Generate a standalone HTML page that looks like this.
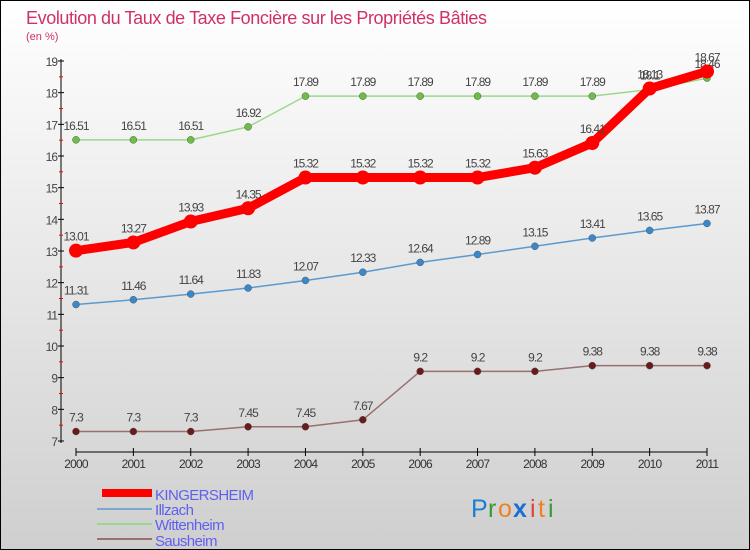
<!DOCTYPE html>
<html><head><meta charset="utf-8"><style>
body{margin:0;}
#wrap{width:750px;height:550px;position:relative;box-sizing:border-box;border:1px solid #000;background:linear-gradient(#ffffff,#cfcfcf);font-family:"Liberation Sans",sans-serif;overflow:hidden}
text{font-family:"Liberation Sans",sans-serif}
</style></head><body>
<div id="wrap">
<svg id="chart" width="750" height="550" style="position:absolute;left:0;top:0">
<text x="25" y="23" font-size="18" fill="#d0306a" letter-spacing="-0.4">Evolution du Taux de Taxe Foncière sur les Propriétés Bâties</text>
<text x="25" y="39" font-size="11" fill="#d0306a">(en %)</text>
<g id="axes"></g><g id="series"></g>
<g letter-spacing="-0.6">
<rect x="101" y="488" width="50" height="8" fill="#f00"/>
<text x="154" y="499" font-size="15" fill="#6060f0">KINGERSHEIM</text>
<rect x="96" y="507" width="55" height="2" fill="#7aa8d0"/>
<text x="154" y="514" font-size="15" fill="#6060f0">Illzach</text>
<rect x="96" y="522" width="55" height="2" fill="#9cd88a"/>
<text x="154" y="529" font-size="15" fill="#6060f0">Wittenheim</text>
<rect x="96" y="537" width="55" height="2" fill="#987070"/>
<text x="154" y="545" font-size="15" fill="#6060f0">Sausheim</text>
</g>
<g font-size="25">
<text x="470" y="516" fill="#1a7fd0">P</text><text x="487" y="516" fill="#3a9a3a">r</text><text x="497" y="516" fill="#f08020">o</text><text x="512" y="516" fill="#1a6fd0" font-weight="bold">x</text><text x="529" y="516" fill="#e04040">i</text><text x="537" y="516" fill="#f08020">t</text><text x="547" y="516" fill="#3a9a3a">i</text>
</g>
</svg>
</div>
<script>
const years=["2000","2001","2002","2003","2004","2005","2006","2007","2008","2009","2010","2011"];
const yTicks=[7,8,9,10,11,12,13,14,15,16,17,18,19];
const kingersheim=[13.01,13.27,13.93,14.35,15.32,15.32,15.32,15.32,15.63,16.41,18.13,18.67];
const illzach=[11.31,11.46,11.64,11.83,12.07,12.33,12.64,12.89,13.15,13.41,13.65,13.87];
const wittenheim=[16.51,16.51,16.51,16.92,17.89,17.89,17.89,17.89,17.89,17.89,18.1,18.46];
const sausheim=[7.3,7.3,7.3,7.45,7.45,7.67,9.2,9.2,9.2,9.38,9.38,9.38];
const NS="http://www.w3.org/2000/svg";
const X=i=>75+i*(706-75)/11;
const Y=v=>440-(v-7)*(380/12);
function mk(t,a,p){const e=document.createElementNS(NS,t);for(const k in a)e.setAttribute(k,a[k]);p.appendChild(e);return e;}
const ax=document.getElementById('axes');
const yl=mk('line',{x1:60,y1:58,x2:60,y2:442,stroke:'#000'},ax);


yTicks.forEach(v=>{
 mk('line',{x1:57,x2:63,y1:Y(v),y2:Y(v),stroke:'#000'},ax);
 if(v<19)mk('line',{x1:58,x2:62,y1:Y(v+0.5),y2:Y(v+0.5),stroke:'#f00'},ax);
 const t=mk('text',{x:56,y:Y(v)+5,'text-anchor':'end','font-size':12,fill:'#444','letter-spacing':'-1'},ax);
 t.textContent=v;
 
 
});
const xl=mk('line',{x1:75,y1:451,x2:706,y2:451,stroke:'#000'},ax);


years.forEach((y,i)=>{
 mk('line',{x1:X(i),x2:X(i),y1:447,y2:455,stroke:'#000'},ax);
 const t=mk('text',{x:X(i),y:467,'text-anchor':'middle','font-size':12,fill:'#333','letter-spacing':'-0.8'},ax);
 t.textContent=y;
 
 
});
const sg=document.getElementById('series');
function draw(name,data,line,dot,w,r){
 const g=mk('g',{},sg);
 
 
 const p=mk('polyline',{points:data.map((v,i)=>X(i)+','+Y(v)).join(' '),fill:'none',stroke:line,'stroke-width':w,'stroke-linejoin':'round'},g);
 
 
 data.forEach((v,i)=>{
  const c=mk('circle',{cx:X(i),cy:Y(v),r:r,fill:dot,stroke:w>3?'none':'#555','stroke-width':0.5},g);
  
  
  const t=mk('text',{x:X(i),y:Y(v)-10,'text-anchor':'middle','font-size':12,fill:'#444','letter-spacing':'-1'},g);
  t.textContent=v;
  
  
 });
}
draw('sausheim',sausheim,'#987070','#6a1a1a',1.5,3.5);
draw('illzach',illzach,'#5a9ad0','#3a88cc',1.5,3.5);
draw('wittenheim',wittenheim,'#9cd88a','#6cc040',1.5,3.5);
draw('kingersheim',kingersheim,'#f00','#f00',9,7);
</script>
</body></html>
